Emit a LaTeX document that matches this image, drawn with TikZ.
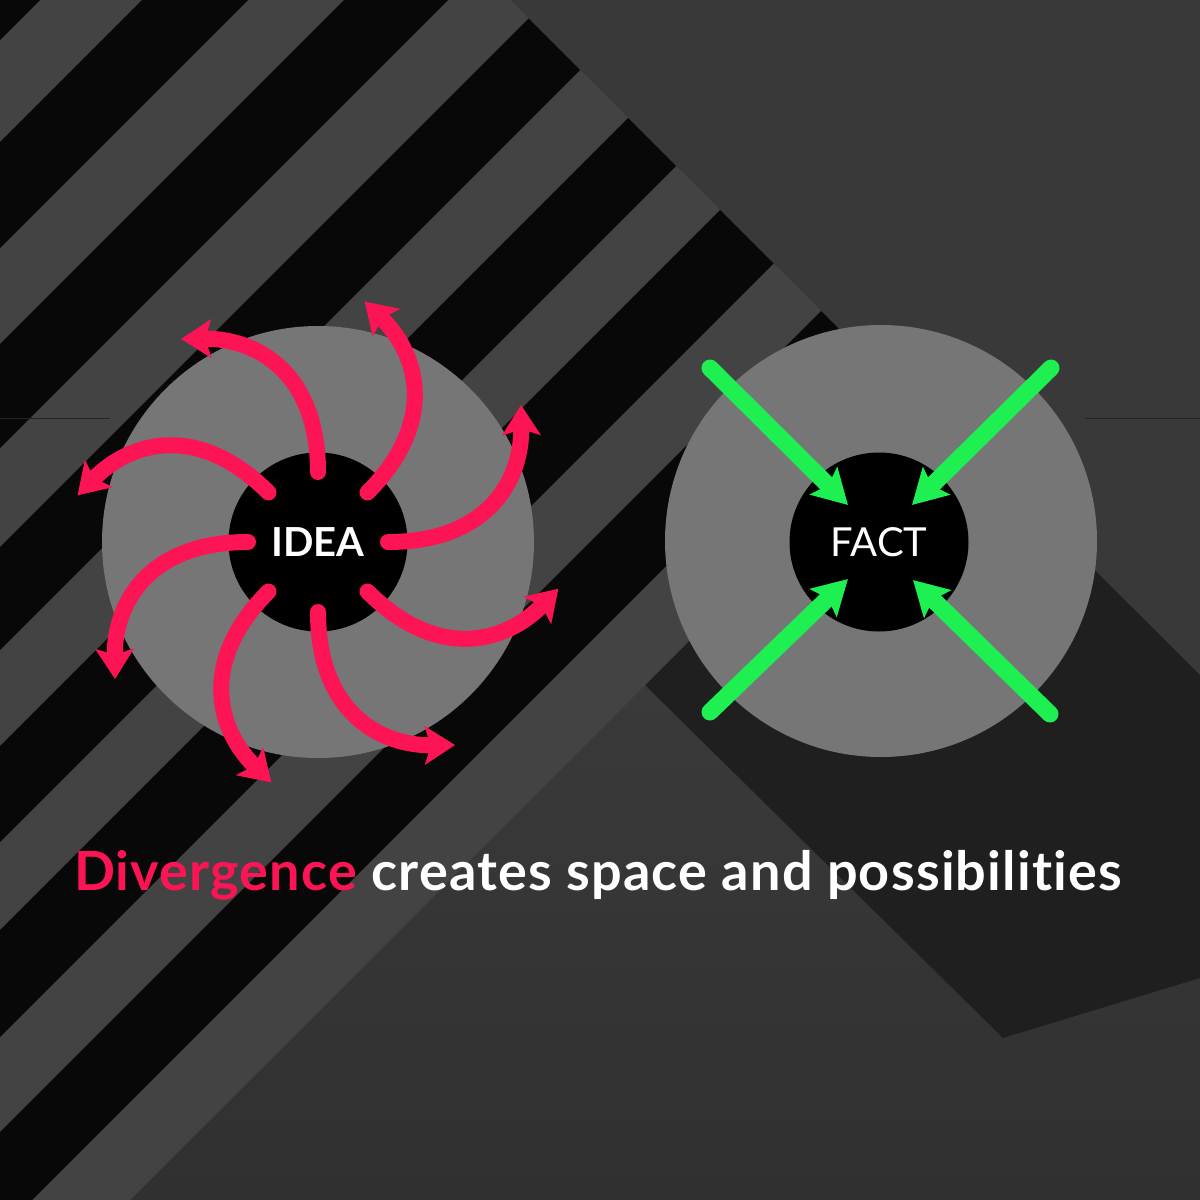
\documentclass[tikz,border=0pt]{standalone}
\usepackage{fontspec}
\setmainfont{Lato}
\newfontfamily\captionfont[LetterSpace=2.2,Ligatures={NoCommon,NoRare,NoDiscretionary}]{Lato}
\usetikzlibrary{arrows.meta}
\definecolor{ideared}{RGB}{252,20,84}
\definecolor{factgreen}{RGB}{30,240,82}
\definecolor{ringgrey}{RGB}{118,118,118}
\definecolor{stripeblack}{RGB}{8,8,8}
\definecolor{stripegrey}{RGB}{67,67,67}
\definecolor{wallgrey}{RGB}{57,57,57}
\definecolor{shadowgrey}{RGB}{31,31,31}
\definecolor{floortop}{RGB}{58,58,58}
\definecolor{floorbottom}{RGB}{48,48,48}
\begin{document}
\begin{tikzpicture}[x=0.5pt,y=-0.5pt,
  ring/.style={circle, fill=ringgrey, inner sep=0pt, minimum size=216pt},
  hub/.style={circle, fill=black, inner sep=0pt, minimum size=89.5pt, text=white, font=\fontsize{20}{24}\selectfont},
  ideaarrow/.style={draw=ideared, line width=8pt, line cap=round, -{Stealth[length=15pt,width=19pt,inset=3pt]}},
  factarrow/.style={draw=factgreen, line width=8.5pt, line cap=round, -{Stealth[length=17pt,width=19pt,inset=3pt]}},
  seam/.style={draw=black!35!wallgrey, line width=0.5pt}
]
\useasboundingbox (0,0) rectangle (1200,1200);
% wall
\fill[wallgrey] (0,0) rectangle (1200,1200);
% floor
\shade[top color=floortop, bottom color=floorbottom] (130,1200) -- (645,685) -- (1003,1038) -- (1200,978) -- (1200,1200) -- cycle;
% shadow band
\fill[shadowgrey] (645,685) -- (927,403) -- (1200,675) -- (1200,978) -- (1003,1038) -- cycle;
% striped face
\begin{scope}
  \clip (0,0) -- (510,0) -- (920,410) -- (130,1200) -- (0,1200) -- cycle;
  \fill[stripegrey] (0,0) rectangle (1200,1200);
  \foreach \a/\b in {-60/40, 142/248, 344/448, 547/650, 746/842, 930/1037, 1132/1232}
    \fill[stripeblack] (\a,0) -- (\b,0) -- (0,\b) -- (0,\a) -- cycle;
\end{scope}
% seams
\draw[seam] (0,418) -- (110,418);
\draw[seam] (1085,418) -- (1200,418);
% circles
\node[ring] (ideaRing) at (318,542) {};
\node[hub, font=\fontsize{20}{24}\selectfont\bfseries] (idea) at (318,542) {IDEA};
\node[ring] (factRing) at (881,541) {};
\node[hub] (fact) at (879,542) {FACT};
% divergent arrows
\begin{scope}[shift={(idea.center)}, yscale=-1]
  \foreach \k in {0,...,7}{
    \begin{scope}[rotate=\k*45]
      \coordinate (is\k) at (70,0);
      \coordinate (ie\k) at (203,137);
      \draw[ideaarrow] (is\k) .. controls (170,0) and (204,62) .. (ie\k);
    \end{scope}
  }
\end{scope}
% convergent arrows
\coordinate (fs1) at (710,368);
\coordinate (ft1) at (848,505);
\coordinate (fs2) at (1051,368);
\coordinate (ft2) at (912,505);
\coordinate (fs3) at (710,712);
\coordinate (ft3) at (848,579);
\coordinate (fs4) at (1050,714);
\coordinate (ft4) at (913,580);
\foreach \i in {1,...,4}
  \draw[factarrow] (fs\i) -- (ft\i);
% caption
\node[anchor=base, font=\captionfont\fontsize{27}{32}\selectfont\bfseries, text=white, inner sep=0pt] (caption) at (598,890) {\textcolor{ideared}{Divergence} creates space and possibilities};
\end{tikzpicture}
\end{document}
